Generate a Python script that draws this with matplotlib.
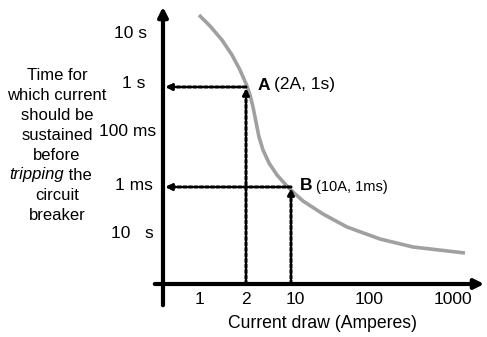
import matplotlib.pyplot as plt

plt.rcParams['font.family'] = ['Liberation Sans', 'DejaVu Sans']

# schematic coordinates (pixel-like units, y grows downward)
x_ticks = ['1', '2', '10', '100', '1000']
x_tick_pos = [199, 246, 295, 369, 453]
y_ticks = ['10 s', '1 s', '100 ms', '1 ms', '10   s']
y_tick_pos = [33, 83, 132, 185, 234]
y_tick_x = [131, 134, 128, 134, 132]

curve_x = [199, 210, 222, 232, 240, 247, 250, 253, 256, 259, 263, 269, 277, 286, 292,
           303, 323, 347, 380, 413, 465]
curve_y = [15, 26, 40, 55, 70, 86, 95, 107, 122, 137, 150, 163, 175, 185, 191,
           201, 214, 227, 239, 247, 253]

point_notes = ['(2A, 1s)', '(10A, 1ms)']
point_x = [246, 291]
point_y = [87, 187]

fig = plt.figure(figsize=(4.87, 3.37), dpi=100)
ax = fig.add_axes([0, 0, 1, 1])
ax.set_xlim(0, 487)
ax.set_ylim(337, 0)
ax.axis('off')

x0, y0 = 163, 284

# axes with arrows
ax.annotate('', xy=(x0, 4), xytext=(x0, 308),
            arrowprops=dict(arrowstyle='-|>', lw=3, color='black', mutation_scale=14))
ax.annotate('', xy=(487, y0), xytext=(152, y0),
            arrowprops=dict(arrowstyle='-|>', lw=3, color='black', mutation_scale=14))

ax.plot(curve_x, curve_y, color='#a0a0a0', lw=2.6, solid_capstyle='butt')

for px, py in zip(point_x, point_y):
    ax.annotate('', xy=(x0 + 2, py), xytext=(px, py),
                arrowprops=dict(arrowstyle='-|>', lw=2.2, ls=(0, (1, 0.8)), color='black',
                                mutation_scale=9, shrinkA=0, shrinkB=0))
    ax.annotate('', xy=(px, py + 1), xytext=(px, y0),
                arrowprops=dict(arrowstyle='-|>', lw=2.2, ls=(0, (1, 0.8)), color='black',
                                mutation_scale=9, shrinkA=0, shrinkB=0))

# point labels
ax.text(258, 85, 'A', fontsize=12.5, fontweight='bold', va='center', ha='left')
ax.text(274, 85, point_notes[0], fontsize=12.5, va='center', ha='left')
ax.text(300, 186, 'B', fontsize=12.5, fontweight='bold', va='center', ha='left')
ax.text(316, 187, point_notes[1], fontsize=10.5, va='center', ha='left')

for lab, pos in zip(x_ticks, x_tick_pos):
    ax.text(pos, 300, lab, fontsize=12.5, ha='center', va='center')
for lab, pos, xx in zip(y_ticks, y_tick_pos, y_tick_x):
    ax.text(xx, pos, lab, fontsize=12.5, ha='center', va='center')

ax.text(323, 323, 'Current draw (Amperes)', fontsize=12.7, ha='center', va='center')

left_lines = ['Time for', 'which current', 'should be', 'sustained', 'before',
              None, 'circuit', 'breaker']
for i, line in enumerate(left_lines):
    yy = 75 + i * 20
    if line is None:
        ax.text(64, yy, ' the', fontsize=12, ha='left', va='center')
        ax.text(64, yy, 'tripping', fontsize=12, style='italic', ha='right', va='center')
    else:
        ax.text(57, yy, line, fontsize=12, ha='center', va='center')

fig.savefig('out.png', dpi=100)
